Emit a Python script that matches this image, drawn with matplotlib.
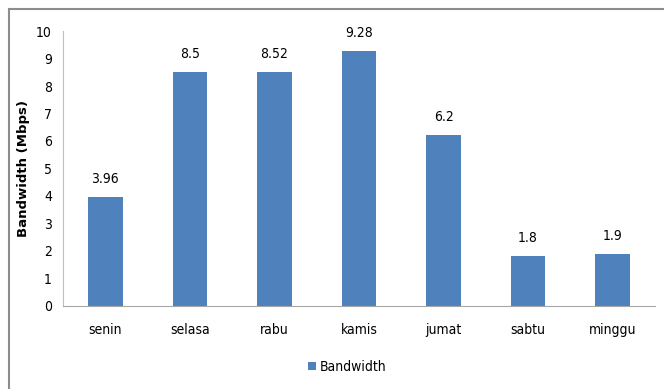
import matplotlib.pyplot as plt
from matplotlib.lines import Line2D

days = ["senin", "selasa", "rabu", "kamis", "jumat", "sabtu", "minggu"]
bandwidth = [3.96, 8.5, 8.52, 9.28, 6.2, 1.8, 1.9]
labels = ["3.96", "8.5", "8.52", "9.28", "6.2", "1.8", "1.9"]

plt.rcParams["font.family"] = "DejaVu Sans"
plt.rcParams["font.stretch"] = "condensed"

fig = plt.figure(figsize=(6.64, 3.89), dpi=100)
ax = fig.add_axes([0.0949, 0.2134, 0.8915, 0.7069])

x = range(len(days))
bars = ax.bar(x, bandwidth, width=0.41, color="#4F81BD", label="Bandwidth")
for i, v in enumerate(bandwidth):
    ax.text(i, v + 0.4, labels[i], ha="center", va="bottom", fontsize=10)

ax.set_xlim(-0.5, len(days) - 0.5)
ax.set_ylim(0, 10)
ax.set_yticks(range(0, 11))
ax.set_xticks(list(x))
ax.set_xticklabels(days, fontsize=10)
ax.tick_params(axis="both", length=0, labelsize=10)
ax.tick_params(axis="x", pad=12)
ax.tick_params(axis="y", pad=8)
for s in ["top", "right"]:
    ax.spines[s].set_visible(False)
ax.spines["left"].set_color("#BFBFBF")
ax.spines["bottom"].set_color("#A6A6A6")
ax.set_ylabel("Bandwidth (Mbps)", fontsize=9.5, fontweight="bold", fontstretch="normal")
ax.yaxis.set_label_coords(-0.056, 0.5)

fig.legend(handles=[bars], labels=["Bandwidth"], loc="center", bbox_to_anchor=(0.523, 0.057),
           frameon=False, fontsize=10, handlelength=0.55, handleheight=0.55, handletextpad=0.25)

# outer chart border (left and top only)
fig.add_artist(Line2D([9 / 664, 9 / 664], [0, 1 - 9 / 389], color="#8C8C8C", lw=1.5))
fig.add_artist(Line2D([9 / 664, 1], [1 - 9 / 389, 1 - 9 / 389], color="#8C8C8C", lw=1.5))

fig.savefig("out.png", dpi=100)
